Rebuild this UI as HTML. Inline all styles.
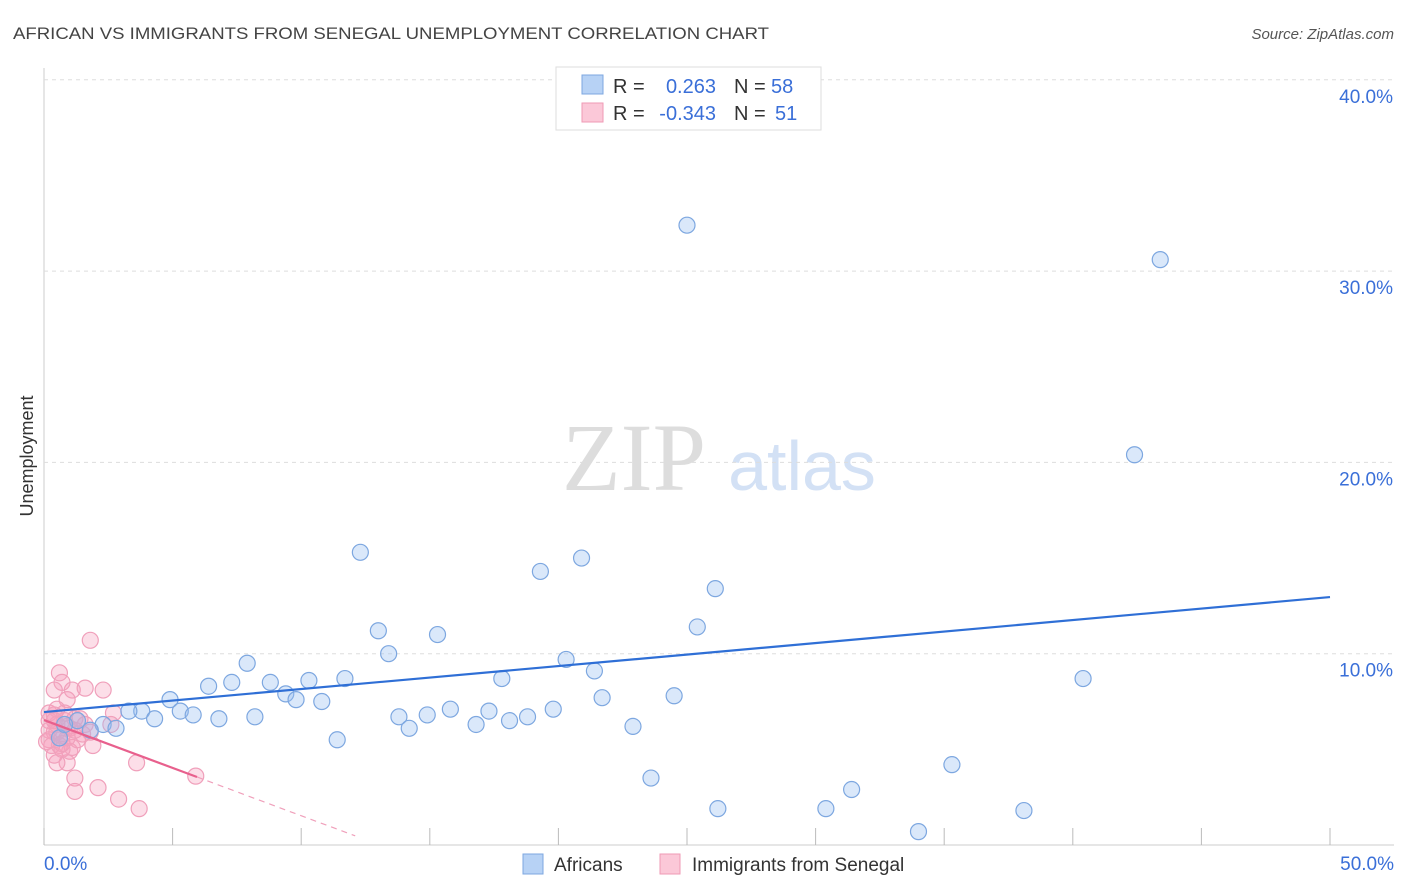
<!DOCTYPE html>
<html><head><meta charset="utf-8"><style>
body{margin:0;background:#fff;font-family:"Liberation Sans",sans-serif;}
svg{display:block}
</style></head><body>
<svg id="c" width="1406" height="892">
<text x="13" y="39" font-size="17" fill="#444" textLength="756" lengthAdjust="spacingAndGlyphs">AFRICAN VS IMMIGRANTS FROM SENEGAL UNEMPLOYMENT CORRELATION CHART</text>
<text x="1394" y="39" font-size="15" fill="#555" font-style="italic" text-anchor="end">Source: ZipAtlas.com</text>
<text x="634" y="490" font-size="96" fill="#ddd" font-family="Liberation Serif,serif" text-anchor="middle">ZIP</text>
<text x="802" y="490" font-size="70" fill="#d3e1f5" text-anchor="middle">atlas</text>
<text transform="translate(33,456) rotate(-90)" font-size="18" fill="#333" text-anchor="middle">Unemployment</text>
<g id="grid"></g><g id="pts"></g><g id="trend"></g>
<g>
<rect x="556" y="67" width="265" height="63" fill="#fff" stroke="#ddd"/>
<rect x="582" y="75" width="21" height="19" fill="#b7d2f5" stroke="#7da7e0"/>
<rect x="582" y="103" width="21" height="19" fill="#fbc8d8" stroke="#ef9ab5"/>
<text x="613" y="93" font-size="20" fill="#333">R = </text><text x="716" y="93" font-size="20" fill="#3a6fd8" text-anchor="end">0.263</text>
<text x="734" y="93" font-size="20" fill="#333">N = </text><text x="771" y="93" font-size="20" fill="#3a6fd8">58</text>
<text x="613" y="120" font-size="20" fill="#333">R = </text><text x="716" y="120" font-size="20" fill="#3a6fd8" text-anchor="end">-0.343</text>
<text x="734" y="120" font-size="20" fill="#333">N = </text><text x="775" y="120" font-size="20" fill="#3a6fd8">51</text>
</g>
<g>
<rect x="523" y="854" width="20" height="20" fill="#b7d2f5" stroke="#7da7e0"/>
<text x="554" y="871" font-size="19" fill="#333">Africans</text>
<rect x="660" y="854" width="20" height="20" fill="#fbc8d8" stroke="#ef9ab5"/>
<text x="692" y="871" font-size="19" fill="#333">Immigrants from Senegal</text>
</g>
</svg>
<script>
const xTicks=[0,5,10,15,20,25,30,35,40,45,50];
const yTicks=[10,20,30,40];
const yTickLabels=["10.0%","20.0%","30.0%","40.0%"];
const africansX=[25,43.4,42.4,12.3,20.9,19.3,26.1,13,15.3,25.4,13.4,7.9,20.3,21.4,17.8,40.4,11.7,7.3,8.8,10.3,6.4,4.9,9.4,9.8,10.8,21.7,24.5,5.3,5.8,3.8,3.3,4.3,6.8,8.2,13.8,14.9,15.8,17.3,18.8,18.1,19.8,16.8,14.2,22.9,1.3,2.3,2.8,1.8,11.4,23.6,35.3,31.4,26.2,30.4,38.1,34,0.6,0.8];
const africansY=[32.4,30.6,20.4,15.3,15,14.3,13.4,11.2,11,11.4,10,9.5,9.7,9.1,8.7,8.7,8.7,8.5,8.5,8.6,8.3,7.6,7.9,7.6,7.5,7.7,7.8,7,6.8,7,7,6.6,6.6,6.7,6.7,6.8,7.1,7,6.7,6.5,7.1,6.3,6.1,6.2,6.5,6.3,6.1,6,5.5,3.5,4.2,2.9,1.9,1.9,1.8,0.7,5.6,6.3];
const senegalX=[1.8,0.6,1.1,0.7,1.6,2.3,2.7,0.4,0.9,0.4,0.8,1.2,0.5,0.2,0.4,0.7,1,1.4,1.9,1,1.1,0.9,0.5,1.2,1.2,2.1,2.9,3.7,3.6,5.9,0.2,0.2,0.3,0.6,0.9,1.3,1.5,0.2,0.5,0.8,1.6,2.6,0.4,0.7,0.5,0.9,1.2,0.1,0.4,1.8,0.7];
const senegalY=[10.7,9,8.1,8.5,8.2,8.1,6.9,8.1,7.6,6.8,6.5,6.6,6.3,6.5,5.9,5.7,6.1,6.6,5.2,4.9,5.1,4.3,4.3,3.5,2.8,3,2.4,1.9,4.3,3.6,5.5,6,5.2,5.2,6.2,5.5,5.8,6.9,7.1,6.9,6.3,6.3,4.7,5,5.9,5.6,6,5.4,6.5,5.9,5.3];
const trendBlue=[6.95,0.1202];   // intercept, slope
const trendPink=[6.53,-0.50];
const NS="http://www.w3.org/2000/svg";
const X=v=>44+v*25.72, Y=v=>845-v*19.13;
function mk(t,a,p){const e=document.createElementNS(NS,t);for(const k in a)e.setAttribute(k,a[k]);p.appendChild(e);return e;}
const g=document.getElementById('grid');
mk('line',{x1:44,y1:68,x2:44,y2:845,stroke:'#ccc'},g);
mk('line',{x1:44,y1:845,x2:1394,y2:845,stroke:'#ccc'},g);
xTicks.forEach(t=>{const l=mk('line',{x1:X(t),y1:828,x2:X(t),y2:845,stroke:'#bbb'},g);

});
yTicks.forEach((t,i)=>{const l=mk('line',{x1:44,y1:Y(t),x2:1394,y2:Y(t),stroke:'#ddd','stroke-dasharray':'4,4'},g);


const tx=mk('text',{x:1393,y:Y(t)+23,'font-size':19,fill:'#3a6fd8','text-anchor':'end'},g);tx.textContent=yTickLabels[i];

});
const x0=mk('text',{x:44,y:870,'font-size':19,fill:'#3a6fd8'},g);x0.textContent="0.0%";


const x1=mk('text',{x:1394,y:870,'font-size':19,fill:'#3a6fd8','text-anchor':'end'},g);x1.textContent="50.0%";


const p=document.getElementById('pts');
senegalX.forEach((v,i)=>{const c=mk('circle',{cx:X(v),cy:Y(senegalY[i]),r:8,fill:'rgba(245,160,190,0.35)',stroke:'#f0a0bb','stroke-width':1.2},p);

});
africansX.forEach((v,i)=>{const c=mk('circle',{cx:X(v),cy:Y(africansY[i]),r:8,fill:'rgba(150,190,240,0.35)',stroke:'#7da7e0','stroke-width':1.2},p);

});
const tr=document.getElementById('trend');
const b=mk('line',{x1:X(0),y1:Y(trendBlue[0]),x2:X(50),y2:Y(trendBlue[0]+50*trendBlue[1]),stroke:'#2f6fd6','stroke-width':2.2},tr);


const pk=mk('line',{x1:X(0),y1:Y(trendPink[0]),x2:X(5.95),y2:Y(trendPink[0]+5.95*trendPink[1]),stroke:'#e8608d','stroke-width':2.2},tr);


const pd=mk('line',{x1:X(5.95),y1:Y(trendPink[0]+5.95*trendPink[1]),x2:X(12.1),y2:Y(trendPink[0]+12.1*trendPink[1]),stroke:'#f0a0bb','stroke-width':1.2,'stroke-dasharray':'6,5'},tr);


</script>
</body></html>
